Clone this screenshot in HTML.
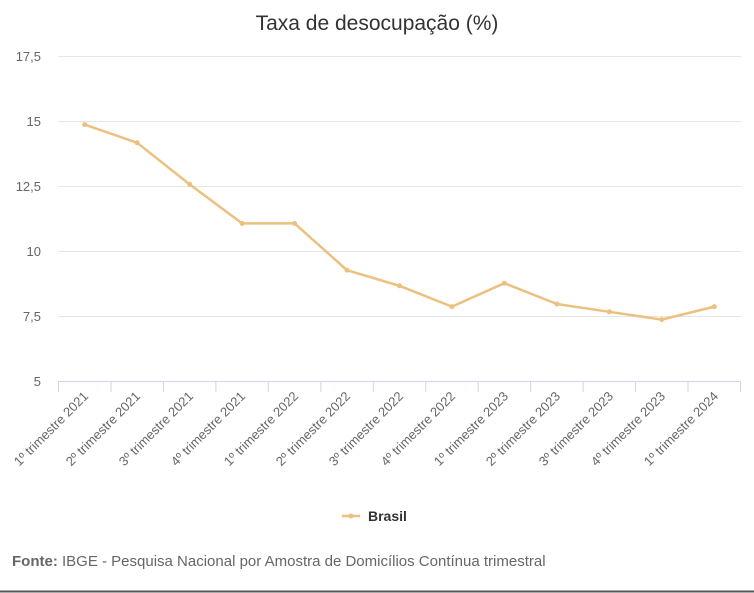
<!DOCTYPE html>
<html><head><meta charset="utf-8"><style>
html,body{margin:0;padding:0;background:#fff;}
svg{display:block;font-family:"Liberation Sans",sans-serif;}
</style></head><body>
<svg width="754" height="593" viewBox="0 0 754 593">
<text x="377" y="30" text-anchor="middle" font-size="21" fill="#333">Taxa de desocupação (%)</text>
<g stroke="#e6e6e6" stroke-width="1">
<line x1="58" x2="741" y1="56.5" y2="56.5"/>
<line x1="58" x2="741" y1="121.5" y2="121.5"/>
<line x1="58" x2="741" y1="186.5" y2="186.5"/>
<line x1="58" x2="741" y1="251.5" y2="251.5"/>
<line x1="58" x2="741" y1="316.5" y2="316.5"/>
</g>
<line x1="58" x2="741" y1="381.5" y2="381.5" stroke="#ccd6eb"/>
<g stroke="#ccd6eb">
<line x1="58.5" x2="58.5" y1="381" y2="392"/><line x1="111" x2="111" y1="381" y2="392"/><line x1="163.4" x2="163.4" y1="381" y2="392"/><line x1="215.9" x2="215.9" y1="381" y2="392"/><line x1="268.3" x2="268.3" y1="381" y2="392"/><line x1="320.8" x2="320.8" y1="381" y2="392"/><line x1="373.3" x2="373.3" y1="381" y2="392"/><line x1="425.7" x2="425.7" y1="381" y2="392"/><line x1="478.2" x2="478.2" y1="381" y2="392"/><line x1="530.6" x2="530.6" y1="381" y2="392"/><line x1="583.1" x2="583.1" y1="381" y2="392"/><line x1="635.6" x2="635.6" y1="381" y2="392"/><line x1="688" x2="688" y1="381" y2="392"/><line x1="740.5" x2="740.5" y1="381" y2="392"/>
</g>
<g font-size="13" fill="#666" text-anchor="end">
<text x="41" y="61">17,5</text><text x="41" y="126">15</text><text x="41" y="191">12,5</text><text x="41" y="256">10</text><text x="41" y="321">7,5</text><text x="41" y="386">5</text>
</g>
<g font-size="13" fill="#666" text-anchor="end">
<text transform="translate(89,397) rotate(-45)">1º trimestre 2021</text>
<text transform="translate(141,397) rotate(-45)">2º trimestre 2021</text>
<text transform="translate(194,397) rotate(-45)">3º trimestre 2021</text>
<text transform="translate(246,397) rotate(-45)">4º trimestre 2021</text>
<text transform="translate(299,397) rotate(-45)">1º trimestre 2022</text>
<text transform="translate(351,397) rotate(-45)">2º trimestre 2022</text>
<text transform="translate(404,397) rotate(-45)">3º trimestre 2022</text>
<text transform="translate(456,397) rotate(-45)">4º trimestre 2022</text>
<text transform="translate(509,397) rotate(-45)">1º trimestre 2023</text>
<text transform="translate(561,397) rotate(-45)">2º trimestre 2023</text>
<text transform="translate(614,397) rotate(-45)">3º trimestre 2023</text>
<text transform="translate(666,397) rotate(-45)">4º trimestre 2023</text>
<text transform="translate(719,397) rotate(-45)">1º trimestre 2024</text>
</g>
<polyline fill="none" stroke="#ecc07f" stroke-width="2.5" stroke-linejoin="round" points="84.7,124.6 137.2,142.8 189.7,184.4 242.1,223.4 294.6,223.4 347,270.2 399.5,285.8 452,306.6 504.4,283.2 556.9,304 609.3,311.8 661.8,319.6 714.3,306.6"/>
<g fill="#ecc07f">
<circle cx="84.7" cy="124.6" r="2.5"/><circle cx="137.2" cy="142.8" r="2.5"/><circle cx="189.7" cy="184.4" r="2.5"/><circle cx="242.1" cy="223.4" r="2.5"/><circle cx="294.6" cy="223.4" r="2.5"/><circle cx="347" cy="270.2" r="2.5"/><circle cx="399.5" cy="285.8" r="2.5"/><circle cx="452" cy="306.6" r="2.5"/><circle cx="504.4" cy="283.2" r="2.5"/><circle cx="556.9" cy="304" r="2.5"/><circle cx="609.3" cy="311.8" r="2.5"/><circle cx="661.8" cy="319.6" r="2.5"/><circle cx="714.3" cy="306.6" r="2.5"/>
</g>
<line x1="342" x2="360" y1="516" y2="516" stroke="#ecc07f" stroke-width="2.5"/>
<circle cx="351" cy="516" r="2.5" fill="#ecc07f"/>
<text x="368" y="521" font-size="14" font-weight="bold" fill="#333">Brasil</text>
<text x="12" y="566" font-size="15" fill="#666"><tspan font-weight="bold">Fonte:</tspan> IBGE - Pesquisa Nacional por Amostra de Domicílios Contínua trimestral</text>
<line x1="0" x2="754" y1="591.5" y2="591.5" stroke="#555" stroke-width="2"/>
</svg>
</body></html>
